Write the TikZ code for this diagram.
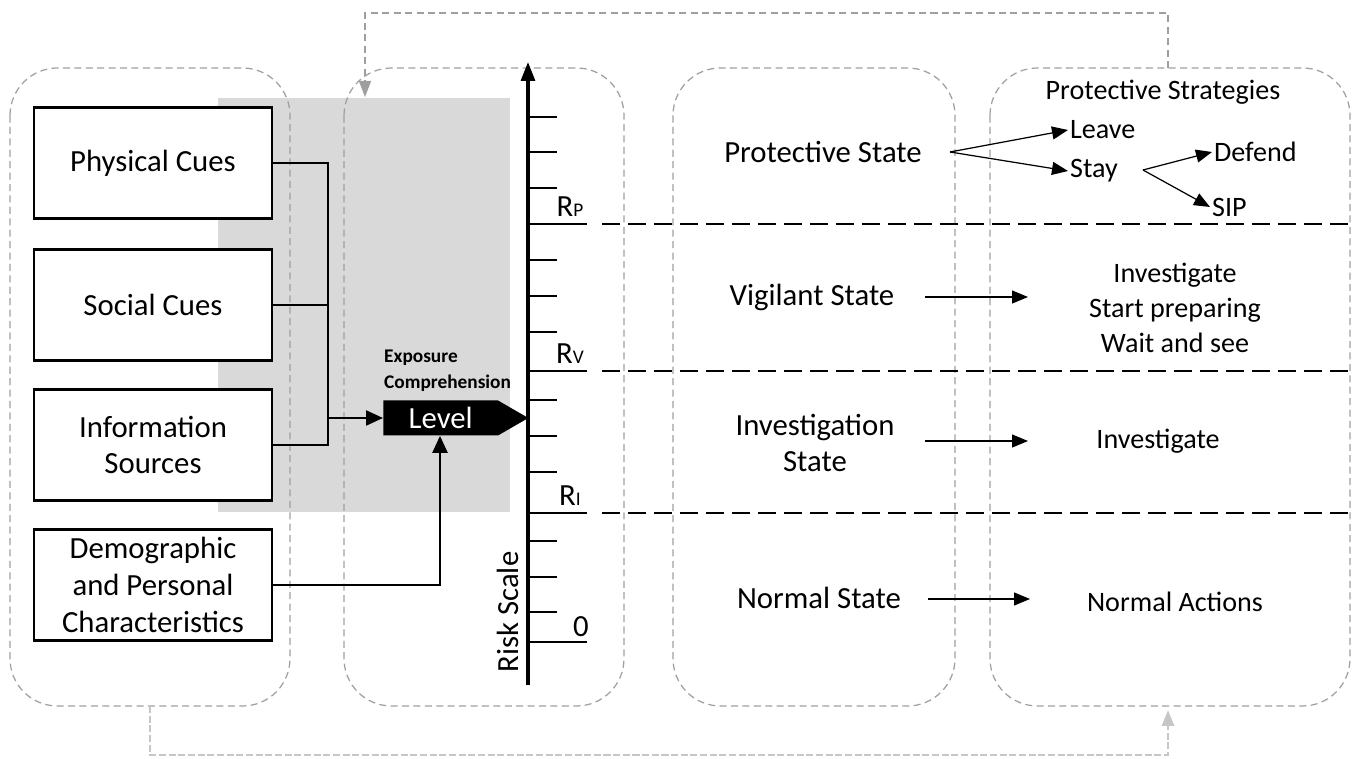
\documentclass[tikz,border=0pt]{standalone}
\usepackage{fontspec}
\setmainfont{Carlito}
\usepackage{tikz}
\usetikzlibrary{arrows.meta,positioning,calc,shapes.symbols}

\begin{document}
\begin{tikzpicture}[x=0.02cm, y=-0.02cm, font=\fontsize{17.5}{21}\selectfont,
    cue/.style={draw, fill=white, line width=1.3pt, minimum width=4.76cm, minimum height=2.22cm, align=center},
    zone/.style={draw=gray!75, line width=0.7pt, dash pattern=on 4pt off 2.5pt, rounded corners=0.95cm},
    rline/.style={line width=1.4pt, dash pattern=on 0.36cm off 0.16cm},
    act/.style={-{Triangle[length=0.32cm, width=0.26cm]}, line width=0.7pt},
    small/.style={font=\fontsize{16}{20}\selectfont}]
    \useasboundingbox (0,0) rectangle (1360,759);

    % shaded exposure area
    \fill[gray!30] (218,98) rectangle (510,512);

    % dashed zones
    \draw[zone] (10,68) rectangle (290,706);
    \draw[zone] (344,68) rectangle (624,706);
    \draw[zone] (673,68) rectangle (955,706);
    \draw[zone] (990,68) rectangle (1350,706);

    % feedback loops
    \draw[gray!75, line width=0.8pt, dash pattern=on 4pt off 2.5pt, -{Triangle[length=0.32cm, width=0.24cm]}]
        (1168,68) -- (1168,13) -- (365,13) -- (365,97);
    \draw[gray!45, line width=1.6pt, dash pattern=on 4pt off 1.5pt, -{Triangle[length=0.32cm, width=0.24cm]}]
        (150,706) -- (150,755) -- (1168,755) -- (1168,710);

    % cue boxes
    \node[cue] (phys) at (153,163) {Physical Cues};
    \node[cue] (soc) at (153,305) {Social Cues};
    \node[cue] (info) at (153,445) {Information\\Sources};
    \node[cue] (demo) at (153,585) {Demographic\\and Personal\\Characteristics};

    % level arrow
    \node[signal, signal to=east, signal pointer angle=60, fill=black, text=white, inner sep=0pt,
        minimum height=0.7cm, minimum width=2.9cm, anchor=west, text width=2.1cm, align=center] (level) at (383,418) {Level};
    \node[font=\fontsize{11}{15}\selectfont\bfseries, align=left, anchor=south west] (expo) at (378,398) {Exposure\\Comprehension};

    \coordinate (join) at (328,418);
    \draw[line width=1.3pt] (phys.east) -| (join);
    \draw[line width=1.3pt] (soc.east) -| (join);
    \draw[line width=1.3pt] (info.east) -| (join);
    \draw[line width=1.3pt, -{Triangle[length=0.34cm, width=0.3cm]}] (join) -- (level.west);
    \draw[line width=1.3pt, -{Triangle[length=0.34cm, width=0.3cm]}] (demo.east) -| (440,0 |- level.south);

    % risk scale
    \draw[line width=1.8pt, -{Triangle[length=0.38cm, width=0.28cm]}] (528,685) -- (528,62);
    \foreach \t in {117,152,188,260,296,332,400,436,472,541,577,612}
        \draw[line width=1.1pt] (528,\t) -- (557,\t);
    \foreach \t/\l in {224/P,371/V,513/I} {
        \draw[line width=1.1pt] (528,\t) -- (587,\t);
        \draw[rline] (602,\t) -- (1350,\t);
        \node at (570,\t-17) {R{\fontsize{11}{11}\selectfont\l}};
    }
    \draw[line width=1.1pt] (528,642) -- (587,642);
    \node at (581,627) {0};
    \node[rotate=90] (risk) at (508,612) {Risk Scale};

    % states
    \node (ps) at (823,152) {Protective State};
    \node (vs) at (812,297) {Vigilant State};
    \node[align=center] (is) at (815,443) {Investigation\\State};
    \node (ns) at (819,598) {Normal State};

    % protective strategies
    \node[small] (strat) at (1163,92) {Protective Strategies};
    \node[small, anchor=west, inner sep=1pt] (leave) at (1068,130) {Leave};
    \node[small, anchor=west, inner sep=1pt] (stay) at (1068,171) {Stay};
    \node[small, anchor=west, inner sep=1pt] (defend) at (1212,152) {Defend};
    \node[small, anchor=west, inner sep=1pt] (sip) at (1210,207) {SIP};
    \coordinate (fork) at (950,152);
    \coordinate (fork2) at (1143,170);
    \draw[act] (fork) -- (leave.west);
    \draw[act] (fork) -- (stay.west);
    \draw[act] (fork2) -- (defend.west);
    \draw[act] (fork2) -- (sip.west);

    % actions
    \node[small, align=center] (vact) at (1175,308) {Investigate\\Start preparing\\Wait and see};
    \node[small] (iact) at (1158,441) {Investigate};
    \node[small] (nact) at (1175,602) {Normal Actions};
    \coordinate (va) at (1028,297);
    \coordinate (ia) at (1028,441);
    \coordinate (na) at (1030,599);
    \draw[act] (925,0 |- va) -- (va);
    \draw[act] (925,0 |- ia) -- (ia);
    \draw[act] (928,0 |- na) -- (na);
\end{tikzpicture}
\end{document}
